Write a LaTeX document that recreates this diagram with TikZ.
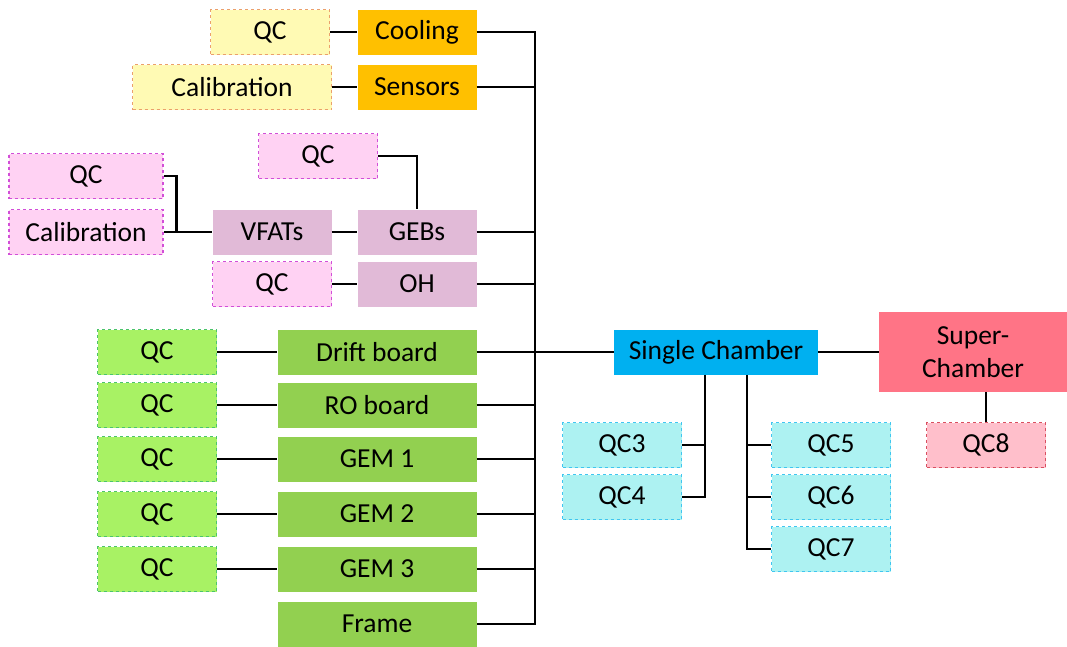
\documentclass[tikz,border=0pt]{standalone}
\usepackage{fontspec}
\setmainfont{Carlito}
\usetikzlibrary{positioning}
\definecolor{amber}{HTML}{FFC000}
\definecolor{yelfill}{HTML}{FFFAB4}
\definecolor{yelline}{HTML}{EBA06C}
\definecolor{mauve}{HTML}{E1BAD7}
\definecolor{pinkfill}{HTML}{FFD2F3}
\definecolor{pinkline}{HTML}{D24ED8}
\definecolor{leaf}{HTML}{92D050}
\definecolor{limefill}{HTML}{A8F264}
\definecolor{limeline}{HTML}{4CC46C}
\definecolor{sky}{HTML}{00B0F0}
\definecolor{aquafill}{HTML}{ADF2F2}
\definecolor{aqualine}{HTML}{40C6F0}
\definecolor{rose}{HTML}{FF7486}
\definecolor{rosefill}{HTML}{FFBFCB}
\definecolor{roseline}{HTML}{D94F60}

\begin{document}
\begin{tikzpicture}[
  x=1pt, y=-1pt,
  font=\fontsize{27.5}{33}\selectfont,
  part/.style={fill=#1, minimum width=119pt, minimum height=45pt, inner sep=0pt, align=center},
  qc/.style={draw=#1line, fill=#1fill, dashed, line width=1.2pt, minimum width=119pt, minimum height=45pt, inner sep=0pt},
  link/.style={line width=2.6pt, draw=black}
]
\useasboundingbox (0,0) rectangle (1067,646);

% services
\node[qc=yel] (qccool) at (270,32) {QC};
\node[part=amber] (cooling) at (417,32) {Cooling};
\node[qc=yel, minimum width=199pt] (calsens) at (232,87) {Calibration};
\node[part=amber] (sensors) at (417,87) {Sensors};

% electronics
\node[qc=pink] (qcgeb) at (318,156) {QC};
\node[qc=pink, minimum width=154pt] (qcvfat) at (86,176) {QC};
\node[qc=pink, minimum width=154pt] (calvfat) at (86,232) {Calibration};
\node[part=mauve] (vfats) at (272,232) {VFATs};
\node[part=mauve] (gebs) at (417,232) {GEBs};
\node[qc=pink] (qcoh) at (272,284) {QC};
\node[part=mauve] (oh) at (417,284) {OH};

% detector parts
\node[part=leaf, minimum width=199pt] (drift) at (377,352) {Drift board};
\node[part=leaf, minimum width=199pt] (ro) at (377,405) {RO board};
\node[part=leaf, minimum width=199pt] (gem1) at (377,459) {GEM 1};
\node[part=leaf, minimum width=199pt] (gem2) at (377,514) {GEM 2};
\node[part=leaf, minimum width=199pt] (gem3) at (377,569) {GEM 3};
\node[part=leaf, minimum width=199pt] (frame) at (377,624) {Frame};
\node[qc=lime] (qcdrift) at (157,352) {QC};
\node[qc=lime] (qcro) at (157,405) {QC};
\node[qc=lime] (qcgem1) at (157,459) {QC};
\node[qc=lime] (qcgem2) at (157,514) {QC};
\node[qc=lime] (qcgem3) at (157,569) {QC};

% chambers
\node[part=sky, minimum width=204pt] (single) at (716,352) {Single Chamber};
\node[part=rose, minimum width=188pt, minimum height=80pt] (super) at (973,352) {Super-\\Chamber};
\node[qc=aqua] (qc3) at (622,445) {QC3};
\node[qc=aqua] (qc4) at (622,497) {QC4};
\node[qc=aqua] (qc5) at (831,445) {QC5};
\node[qc=aqua] (qc6) at (831,497) {QC6};
\node[qc=aqua] (qc7) at (831,549) {QC7};
\node[qc=rose] (qc8) at (986,445) {QC8};

\coordinate (bustop) at (535,32);
\coordinate (busbot) at (535,624);
\coordinate (lefttap) at ([xshift=-11pt]single.south);
\coordinate (righttap) at ([xshift=31pt]single.south);

\draw[link] (cooling.east) -- (bustop) -- (busbot) -- (frame.east);
\foreach \n in {sensors,gebs,oh,ro,gem1,gem2,gem3}
  \draw[link] (\n.east) -- (\n.east -| bustop);
\draw[link] (drift.east) -- (single.west);
\draw[link] (single.east) -- (super.west);
\draw[link] (super.south -| qc8) -- (qc8.north);

\draw[link] (qccool.east) -- (cooling.west);
\draw[link] (calsens.east) -- (sensors.west);
\draw[link] (qcgeb.east) -| (gebs.north);
\draw[link] (qcvfat.east) -- ++(13,0) |- (vfats.west);
\draw[link] (calvfat.east) -- (vfats.west);
\draw[link] (vfats.east) -- (gebs.west);
\draw[link] (qcoh.east) -- (oh.west);

\foreach \n in {drift,ro,gem1,gem2,gem3}
  \draw[link] (qc\n.east) -- (\n.west);

\draw[link] (lefttap) |- (qc4.east);
\draw[link] (qc3.east) -- (qc3.east -| lefttap);
\draw[link] (righttap) |- (qc7.west);
\foreach \n in {qc5,qc6}
  \draw[link] (\n.west) -- (\n.west -| righttap);
\end{tikzpicture}
\end{document}
